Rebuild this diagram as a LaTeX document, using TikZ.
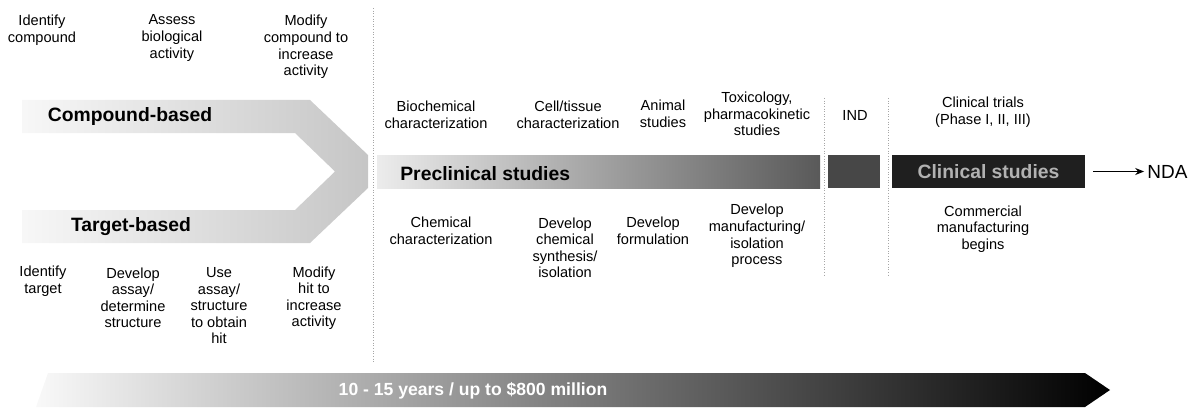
\documentclass[tikz,border=0pt]{standalone}
\usepackage{fontspec}
\setmainfont{Liberation Sans}
\usepackage{tikz}
\usetikzlibrary{arrows.meta}
\tikzset{
  lbl/.style={align=center, inner sep=0pt, font=\fontsize{8.3}{9.4}\selectfont},
  head/.style={inner sep=0pt, font=\fontsize{11}{13}\selectfont\bfseries},
  sep/.style={densely dotted, gray!70, line width=0.5pt},
}
\begin{document}
\begin{tikzpicture}[x=0.02cm, y=-0.02cm]
        \useasboundingbox (0,0) rectangle (1189,412);
        \shade[left color=gray!6, right color=gray!45] (22,100) -- (310,100) -- (368,155) -- (368,188) -- (310,243) -- (22,243) -- (22,210) -- (295,210) -- (335,171.5) -- (295,133) -- (22,133) -- cycle;
        \shade[left color=gray!15, right color=black!65] (377,155) rectangle (820,188);
        \fill[black!72] (828,155) rectangle (880,188);
        \shade[left color=gray!5, right color=black] (48,373) -- (1085,373) -- (1110,390) -- (1085,407) -- (36,407) -- cycle;
        \draw[sep] (373,8) -- (373,362);
        \draw[sep] (824,98) -- (824,275);
        \draw[sep] (888,98) -- (888,275);

        \node[lbl] (idc) at (42,30) {Identify\\compound};
        \node[lbl] (abio) at (172,38) {Assess\\biological\\activity};
        \node[lbl] (modc) at (306,47) {Modify\\compound to\\increase\\activity};
        \node[head] (cbased) at (130,117) {Compound-based};
        \node[head] (tbased) at (131,227) {Target-based};
        \node[lbl] (idt) at (43,281) {Identify\\target};
        \node[lbl] (dass) at (133,298) {Develop\\assay/\\determine\\structure};
        \node[lbl] (uass) at (219,306) {Use\\assay/\\structure\\to obtain\\hit};
        \node[lbl] (modh) at (314,298) {Modify\\hit to\\increase\\activity};

        \node[lbl] (bioc) at (436,115) {Biochemical\\characterization};
        \node[lbl] (cellt) at (568,115) {Cell/tissue\\characterization};
        \node[lbl] (anim) at (663,114) {Animal\\studies};
        \node[lbl] (toxi) at (757,114) {Toxicology,\\pharmacokinetic\\studies};
        \node[lbl] (ind) at (855,115) {IND};
        \node[lbl] (ctri) at (983,112) {Clinical trials\\(Phase I, II, III)};

        \node[head, anchor=west] (precl) at (400,174) {Preclinical studies};
        \node[head, fill=black!88, text=gray!60, minimum width=3.86cm, minimum height=0.66cm] (clin) at (988.5,171.5) {Clinical studies};
        \node[inner sep=0pt, anchor=west, font=\fontsize{10.8}{13}\selectfont] (nda) at (1147,171.5) {NDA};
        \draw[-{Stealth[length=5pt,width=4pt]}, line width=0.5pt, shorten <=0.16cm, shorten >=0.06cm] (clin) -- (nda);

        \node[lbl] (chem) at (441,231) {Chemical\\characterization};
        \node[lbl] (dsyn) at (565,248) {Develop\\chemical\\synthesis/\\isolation};
        \node[lbl] (dfor) at (653,231) {Develop\\formulation};
        \node[lbl] (dman) at (757,236) {Develop\\manufacturing/\\isolation\\process};
        \node[lbl] (comm) at (983,229) {Commercial\\manufacturing\\begins};

        \node[inner sep=0pt, text=white, font=\fontsize{10}{12}\selectfont\bfseries] (span) at (473,391) {10 - 15 years / up to \$800 million};
      \end{tikzpicture}
\end{document}
